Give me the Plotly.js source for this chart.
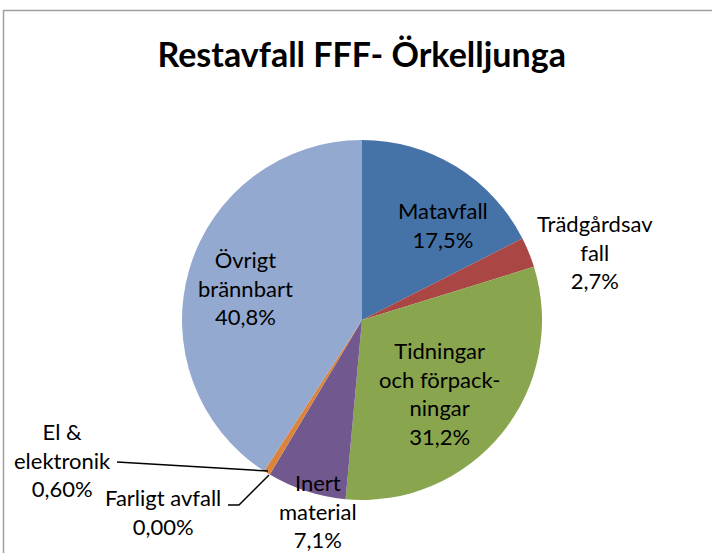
<!DOCTYPE html>
<html>
<head>
<meta charset="utf-8">
<script src="https://cdn.plot.ly/plotly-3.0.1.min.js"></script>
<style>
html,body{margin:0;padding:0;background:#fff;}
#chart{width:712px;height:553px;}
</style>
</head>
<body>
<div id="chart"></div>
<script>
// Data
const categories = ["Matavfall", "Trädgårdsavfall", "Tidningar och förpackningar", "Inert material", "Farligt avfall", "El & elektronik", "Övrigt brännbart"];
const values = [17.5, 2.7, 31.2, 7.1, 0.0, 0.6, 40.8];
const labelTexts = ["Matavfall", "Trädgårdsav<br>fall", "Tidningar<br>och förpack-<br>ningar", "Inert<br>material", "Farligt avfall", "El &<br>elektronik", "Övrigt<br>brännbart"];
const pctTexts = ["17,5%", "2,7%", "31,2%", "7,1%", "0,00%", "0,60%", "40,8%"];
const colors = ["#4572A7", "#AA4643", "#89A54E", "#71588F", "#4198AF", "#DB843D", "#93A9CF"];

// Layout helpers (positions in pixels, converted to paper)
const W = 712, H = 553;
const px = x => x / W;
const py = y => 1 - y / H;
const labelPos = [[443, 225], [595, 252], [440, 393], [318, 511], [163, 512], [62, 460], [245, 288]];

const font = "Lato, 'Liberation Sans', sans-serif";
const cx = 362, cy = 320, r = 180;

const annotations = categories.map((c, i) => ({
  xref: "paper", yref: "paper",
  x: px(labelPos[i][0]), y: py(labelPos[i][1]),
  xanchor: "center", yanchor: "middle",
  text: labelTexts[i] + "<br>" + pctTexts[i],
  showarrow: false,
  align: "center",
  font: {family: font, size: 22, color: "#000"}
}));

const shapes = [
  {type: "rect", xref: "paper", yref: "paper", x0: px(3.5), x1: px(740), y0: py(10.5), y1: py(600),
   line: {color: "#a0a0a0", width: 1.5}, fillcolor: "rgba(0,0,0,0)"},
  // leader line El & elektronik
  {type: "path", xref: "paper", yref: "paper",
   path: `M ${px(117)},${py(462)} L ${px(268)},${py(471)}`, line: {color: "#000", width: 1.5}},
  // leader line Farligt avfall
  {type: "path", xref: "paper", yref: "paper",
   path: `M ${px(228)},${py(505)} L ${px(239)},${py(505)} L ${px(269)},${py(475)}`, line: {color: "#000", width: 1.5}}
];

const trace = {
  type: "pie",
  labels: categories,
  values: values,
  sort: false,
  direction: "clockwise",
  rotation: 0,
  textinfo: "none",
  hoverinfo: "label+percent",
  marker: {colors: colors, line: {width: 0}},
  domain: {x: [px(cx - r), px(cx + r)], y: [py(cy + r), py(cy - r)]},
  showlegend: false
};

const layout = {
  width: W, height: H,
  margin: {l: 0, r: 0, t: 0, b: 0},
  paper_bgcolor: "#fff",
  title: {text: "<b>Restavfall FFF- Örkelljunga</b>", x: 0.508, xanchor: "center", y: py(55), yanchor: "middle",
          font: {family: font, size: 34, color: "#000"}},
  annotations: annotations,
  shapes: shapes,
  showlegend: false
};

Plotly.newPlot("chart", [trace], layout, {displayModeBar: false, staticPlot: true});
</script>
</body>
</html>
